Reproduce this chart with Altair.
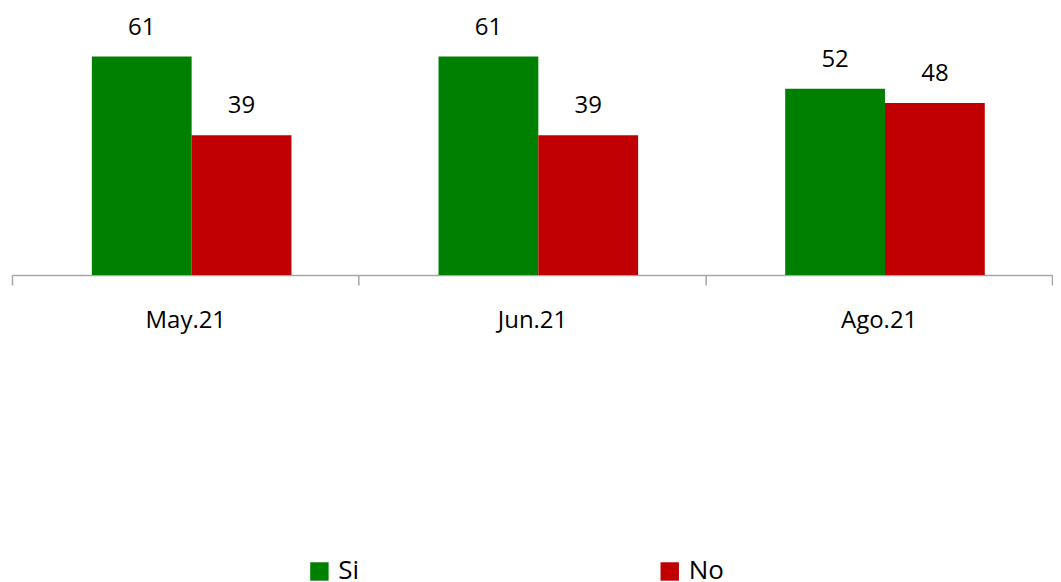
import altair as alt
import pandas as pd

months = ["May.21", "Jun.21", "Ago.21"]
series = ["Si", "No"]
si_values = [61, 61, 52]
no_values = [39, 39, 48]
colors = ["#008000", "#C00000"]

rows = []
for m, s, n in zip(months, si_values, no_values):
    rows.append({"mes": m, "serie": "Si", "valor": s})
    rows.append({"mes": m, "serie": "No", "valor": n})
df = pd.DataFrame(rows)

FONT = "Open Sans"

x = alt.X("mes:N", sort=months, title=None,
          scale=alt.Scale(paddingInner=0, paddingOuter=0),
          axis=alt.Axis(labelAngle=0, labelFontSize=24, labelFont=FONT, labelColor="#000000",
                        domainColor="#a6a6a6", domainWidth=1.5, tickColor="#a6a6a6",
                        tickWidth=1.5, tickSize=10, labelPadding=24, tickBand="extent"))
xoff = alt.XOffset("serie:N", sort=series,
                   scale=alt.Scale(paddingOuter=0.737, paddingInner=0, align=0.543))
y = alt.Y("valor:Q", axis=None, scale=alt.Scale(domain=[0, 74.4], nice=False, zero=True))

bars = alt.Chart(df).mark_bar().encode(
    x=x, xOffset=xoff, y=y,
    color=alt.Color("serie:N", sort=series,
                    scale=alt.Scale(domain=series, range=colors),
                    legend=alt.Legend(title=None, orient="none", legendX=295, legendY=551,
                                      direction="horizontal", symbolType="square",
                                      symbolSize=340, symbolStrokeWidth=0,
                                      labelFontSize=26, labelFont=FONT, labelColor="#000000",
                                      columnPadding=298, labelOffset=6))
)

text = alt.Chart(df).mark_text(baseline="bottom", dy=-17, fontSize=24, font=FONT, color="#000000").encode(
    x=x, xOffset=xoff, y=y, text=alt.Text("valor:Q")
)

chart = alt.layer(bars, text).properties(
    width=1042, height=267,
    padding={"left": 3, "top": 0, "right": 0, "bottom": 0}
).configure_view(stroke=None)

chart.save("out.html", embed_options={"renderer": "svg", "actions": False})
